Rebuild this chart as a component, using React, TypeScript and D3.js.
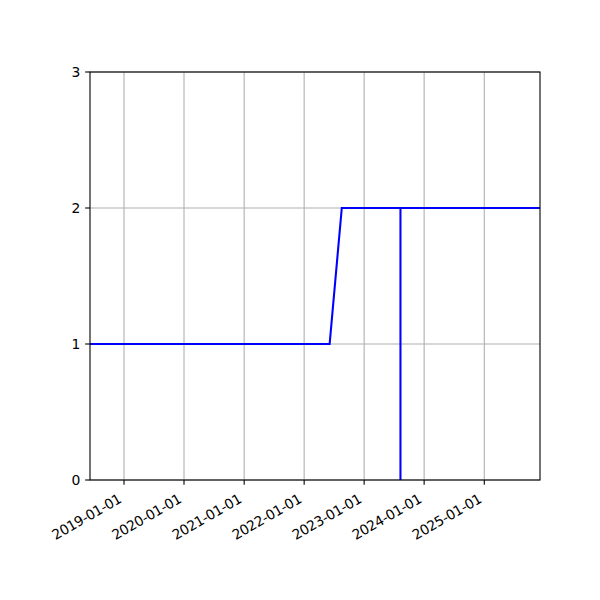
import React, { useEffect, useRef } from 'react';
import * as d3 from 'd3';

// Series (step with a one-day drop to 0)
const dates: string[] = [
  '2018-06-08',
  '2022-06-05',
  '2022-08-18',
  '2023-08-10',
  '2023-08-10',
  '2023-08-10',
  '2025-12-06',
];
const values: number[] = [1, 1, 2, 2, 0, 2, 2];

const yTicks: number[] = [0, 1, 2, 3];
const xTickLabels: string[] = [
  '2019-01-01',
  '2020-01-01',
  '2021-01-01',
  '2022-01-01',
  '2023-01-01',
  '2024-01-01',
  '2025-01-01',
];

const App = () => {
  const ref = useRef<SVGSVGElement>(null);

  useEffect(() => {
    if (!ref.current) return;
    const svg = d3.select(ref.current);
    svg.selectAll('*').remove();

    const margin = { top: 72, right: 60, bottom: 120, left: 90 };
    const width = 600 - margin.left - margin.right;
    const height = 600 - margin.top - margin.bottom;
    const font = 'DejaVu Sans, sans-serif';
    const fontSize = 13.9;
    const tickLen = 4.86;
    const pad = 4.86;

    const parse = d3.utcParse('%Y-%m-%d');
    const data = dates.map((d, i) => ({ date: parse(d) as Date, value: values[i] }));

    const x = d3
      .scaleUtc()
      .domain(d3.extent(data, d => d.date) as [Date, Date])
      .range([0, width]);
    const y = d3.scaleLinear().domain([0, 3]).range([height, 0]);

    const g = svg.append('g').attr('transform', `translate(${margin.left},${margin.top})`);

    const xTicks = xTickLabels.map(s => parse(s) as Date);

    // grid
    g.append('g')
      .selectAll('line')
      .data(xTicks)
      .join('line')
      .attr('x1', d => x(d))
      .attr('x2', d => x(d))
      .attr('y1', 0)
      .attr('y2', height)
      .attr('stroke', '#b0b0b0')
      .attr('stroke-width', 1.1);
    g.append('g')
      .selectAll('line')
      .data(yTicks)
      .join('line')
      .attr('x1', 0)
      .attr('x2', width)
      .attr('y1', d => y(d))
      .attr('y2', d => y(d))
      .attr('stroke', '#b0b0b0')
      .attr('stroke-width', 1.1);

    // line
    const line = d3
      .line<{ date: Date; value: number }>()
      .x(d => x(d.date))
      .y(d => y(d.value));
    g.append('path')
      .datum(data)
      .attr('d', line)
      .attr('fill', 'none')
      .attr('stroke', '#0000ff')
      .attr('stroke-width', 2.08)
      .attr('stroke-linejoin', 'miter');

    // frame
    g.append('rect')
      .attr('x', 0)
      .attr('y', 0)
      .attr('width', width)
      .attr('height', height)
      .attr('fill', 'none')
      .attr('stroke', '#000')
      .attr('stroke-width', 1.1);

    // y ticks
    const yAxis = g.append('g');
    yAxis
      .selectAll('line')
      .data(yTicks)
      .join('line')
      .attr('x1', -tickLen)
      .attr('x2', 0)
      .attr('y1', d => y(d))
      .attr('y2', d => y(d))
      .attr('stroke', '#000')
      .attr('stroke-width', 1.1);
    yAxis
      .selectAll('text')
      .data(yTicks)
      .join('text')
      .attr('x', -tickLen - pad)
      .attr('y', d => y(d))
      .attr('dy', '0.36em')
      .attr('text-anchor', 'end')
      .attr('font-family', font)
      .attr('font-size', fontSize)
      .text(d => String(d));

    // x ticks
    const xAxis = g.append('g').attr('transform', `translate(0,${height})`);
    xAxis
      .selectAll('line')
      .data(xTicks)
      .join('line')
      .attr('x1', d => x(d))
      .attr('x2', d => x(d))
      .attr('y1', 0)
      .attr('y2', tickLen)
      .attr('stroke', '#000')
      .attr('stroke-width', 1.1);
    xAxis
      .selectAll('text')
      .data(xTicks)
      .join('text')
      .attr('transform', d => `translate(${x(d) - 1.6},${tickLen + pad + 12}) rotate(-30)`)
      .attr('text-anchor', 'end')
      .attr('font-family', font)
      .attr('font-size', fontSize)
      .attr('letter-spacing', -0.35)
      .text((d, i) => xTickLabels[i]);
  }, []);

  return <svg ref={ref} width={600} height={600} style={{ display: 'block', margin: -8 }} />;
};

export default App;
